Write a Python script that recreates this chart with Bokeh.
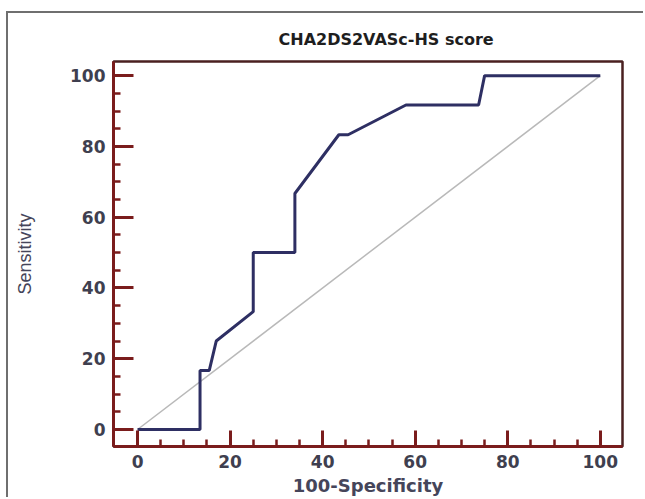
from bokeh.plotting import figure
from bokeh.models import FixedTicker, Range1d
from bokeh.embed import file_html
from bokeh.resources import INLINE

# ROC curve values
fpr = [0, 13.5, 13.5, 15.5, 17, 25, 25, 34, 34, 43.5, 45.5, 58, 73.7, 75, 100]
sens = [0, 0, 16.7, 16.7, 25, 33.3, 50, 50, 66.7, 83.3, 83.3, 91.7, 91.7, 100, 100]
ref_x = [0, 100]
ref_y = [0, 100]
major_ticks = [0, 20, 40, 60, 80, 100]
minor_ticks = [5, 10, 15, 25, 30, 35, 45, 50, 55, 65, 70, 75, 85, 90, 95]
title_text = "CHA2DS2VASc-HS score"
x_label = "100-Specificity"
y_label = "Sensitivity"

AX = "#7a1c1c"

p = figure(width=637, height=486, output_backend="svg", toolbar_location=None,
           x_range=Range1d(-5.2, 104.8), y_range=Range1d(-4.8, 104),
           min_border_left=105, min_border_right=23, min_border_top=48,
           min_border_bottom=53, title=title_text)

# outer picture frame (left and top edges visible in the reference)
p.styles = {"border-left": "2px solid #6f6f6f", "border-top": "2px solid #6f6f6f",
            "margin-left": "6px", "margin-top": "11px"}

p.title.align = "left"
p.title.offset = 165
p.title.standoff = 26
p.title.text_font = "DejaVu Sans"
p.title.text_font_size = "16px"
p.title.text_font_style = "bold"
p.title.text_color = "#1e1e1e"

p.xgrid.visible = False
p.ygrid.visible = False
p.background_fill_color = "white"
p.border_fill_color = "white"
p.outline_line_color = "#4a2020"
p.outline_line_width = 2.5

for ax in (p.xaxis[0], p.yaxis[0]):
    ax.ticker = FixedTicker(ticks=major_ticks, minor_ticks=minor_ticks)
    ax.axis_line_color = AX
    ax.axis_line_width = 3
    ax.major_tick_line_color = AX
    ax.major_tick_line_width = 3
    ax.minor_tick_line_color = AX
    ax.minor_tick_line_width = 2.5
    ax.major_tick_out = 0
    ax.minor_tick_out = 0
    ax.minor_tick_in = 7
    ax.major_label_text_font = "DejaVu Sans"
    ax.major_label_text_font_size = "17px"
    ax.major_label_text_font_style = "bold"
    ax.major_label_text_color = "#3f3f4f"
    ax.major_label_standoff = 8
    ax.axis_label_text_color = "#45455a"

p.xaxis.major_tick_in = 16
p.yaxis.major_tick_in = 20
p.xaxis.axis_label = x_label
p.yaxis.axis_label = y_label
p.xaxis.axis_label_text_font = "DejaVu Sans"
p.xaxis.axis_label_text_font_size = "18px"
p.xaxis.axis_label_text_font_style = "bold"
p.xaxis.axis_label_standoff = 4
p.yaxis.axis_label_text_font = "Liberation Sans"
p.yaxis.axis_label_text_font_size = "18px"
p.yaxis.axis_label_text_font_style = "normal"
p.yaxis.axis_label_standoff = 32

p.line(ref_x, ref_y, line_color="#b9b9b9", line_width=1.5)
p.line(fpr, sens, line_color="#2e2f63", line_width=3)

open("out.html", "w").write(file_html(p, INLINE))
